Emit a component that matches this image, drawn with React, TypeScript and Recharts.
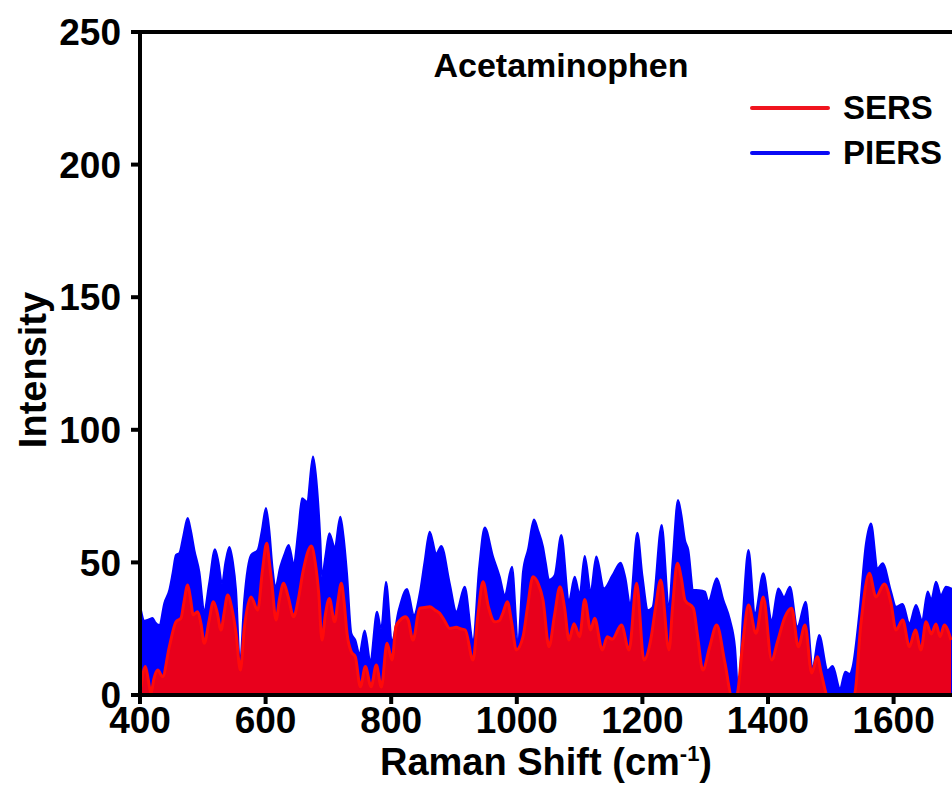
import { AreaChart, Area, XAxis, YAxis, ReferenceLine } from 'recharts'

const FONT = '"Liberation Sans", Arial, Helvetica, sans-serif'

// PIERS (blue) spectrum
const piersShift = [
  401.6, 407, 414, 420, 424, 430.8, 438.8, 446.7, 452, 457.3, 462.6, 469, 475.9, 481, 486.5, 494.5,
  502.4, 510, 519.4, 525, 530.6, 536, 542.3, 548, 552.9, 559.2, 566, 576.8, 587.4, 594, 600.6, 606,
  611, 615.5, 623.4, 630, 636.7, 644.7, 652, 658, 665.9, 675.5, 682, 687.2, 689.8, 695, 701.5, 710,
  719, 724, 729.6, 736.5, 742.9, 749.3, 757.8, 766.8, 777.4, 784, 791.7, 801.3, 812, 825.2, 836.3,
  845.4, 853, 861.3, 871.8, 879.8, 893.2, 903.7, 917, 930.3, 940, 948.9, 962.1, 972.8, 980.7, 992.4,
  1001.9, 1009.9, 1018, 1027.4, 1034, 1041.7, 1046, 1051.3, 1060, 1070.9, 1083.1, 1092.2, 1100,
  1108.1, 1117.6, 1126.6, 1138.9, 1152, 1165.4, 1173, 1180.3, 1191.9, 1200, 1208.9, 1216, 1230.7,
  1242.4, 1248, 1256.7, 1262, 1267.8, 1273.1, 1281.1, 1290, 1299.7, 1305, 1318.3, 1328.9, 1339.5,
  1347.5, 1353, 1360, 1368.9, 1379.3, 1392.5, 1405.9, 1416.4, 1425.5, 1435, 1446.7, 1460, 1471.1,
  1481.5, 1495, 1503, 1514.6, 1523.1, 1530, 1534.7, 1545.4, 1556, 1564, 1574.6, 1582.5, 1595.9,
  1603.8, 1614.5, 1625.1, 1635.7, 1645.2, 1654.3, 1660, 1667.5, 1675.5, 1683.4, 1693,
]
const piersIntensity = [
  32, 28, 28.5, 29, 27.5, 26.4, 34.7, 39.6, 46, 52.8, 53.5, 60, 66.7, 62, 54.7, 46.4,
  32, 42, 55, 50, 42, 50, 55.8, 50, 39.6, 12, 36, 52.8, 54.7, 62, 70.5, 62,
  48, 40.8, 48.4, 53, 56.6, 49.7, 62, 74.2, 72.9, 89.9, 78, 58.4, 44.6, 52, 61, 55.9,
  67.2, 60, 45.9, 23.3, 20.7, 15.7, 24.3, 13.2, 31.4, 25, 42.7, 20.7, 32, 40, 30.2,
  38.3, 50, 61.6, 53.4, 56.2, 42.1, 31.4, 40.8, 20.7, 48, 63.2, 52.2, 44.6, 37.7, 48.4,
  20.7, 46.5, 55, 66.2, 62, 55.9, 50, 43.4, 45, 60.3, 35.8, 44.6, 38,
  52.4, 39.6, 52.2, 40.2, 45, 49.9, 44, 34.6, 61.2, 45, 32, 33, 64.1,
  33.3, 50, 73.5, 68, 58.4, 54.7, 39.6, 39.5, 39, 35.2, 44, 35.8, 28.3,
  18, 0.5, 30, 54.7, 30.8, 45.9, 28.3, 40.2, 37, 40.8, 25.8, 35.2, 10.7,
  22.6, 9.4, 10.9, 2.5, 8.8, 8, 10.7, 30.8, 57.2, 64.7, 47.8, 49.7, 39,
  33.3, 34.3, 27, 33.9, 28.3, 39, 36, 42.7, 37.7, 40.8, 40,
]

// SERS (red) spectrum
const sersShift = [
  401.6, 408.5, 413, 417.5, 422, 428.2, 436, 446.7, 457.3, 465.3, 470, 475.9, 480, 484.8, 491.8, 497,
  502.4, 510, 516.8, 523, 529, 534, 539.6, 546, 552.9, 559.8, 566, 576.8, 587.4, 595, 601.8, 606,
  610, 616.6, 622, 628.8, 636, 644.7, 652, 660, 672.8, 679, 684.6, 689.8, 695, 701.5, 710, 715,
  720.6, 725, 729.6, 736.5, 742.9, 750.9, 758.9, 768, 776.3, 784.3, 793.3, 801.3, 807.6, 814.5,
  822.5, 827, 834.7, 845.4, 853, 861.3, 870, 877.2, 885, 893.2, 903.7, 910, 918, 930.3, 938, 946.2,
  955, 964.8, 972, 978, 984.9, 992, 999.2, 1009.9, 1017, 1025.8, 1034, 1041.7, 1051.3, 1060, 1068.8,
  1076, 1083.1, 1091.1, 1100, 1108.1, 1117.6, 1124, 1136.1, 1144.1, 1152, 1166.6, 1178.8, 1190.8,
  1202.5, 1213.2, 1221, 1229.1, 1242.4, 1248, 1255.6, 1262, 1267.8, 1281.1, 1288, 1296.2, 1307,
  1318.3, 1331.5, 1342.2, 1350.1, 1360, 1368.9, 1381, 1392.5, 1405.9, 1415, 1427.1, 1437.7, 1448.3,
  1459, 1469.6, 1478.5, 1485, 1495, 1537.3, 1548, 1561.3, 1571.9, 1585.2, 1595.9, 1603.8, 1614.5,
  1625.1, 1634.7, 1643.6, 1651.6, 1660, 1667.5, 1674, 1680.7, 1691.5,
]
const sersIntensity = [
  3, 10.7, 6, 0.5, 6, 9.4, 6.9, 18.2, 27.6, 29, 35, 41.5, 37, 30.2, 31.4, 27,
  19.5, 28, 35.2, 31, 24.5, 31, 37.7, 33, 23.4, 9.4, 25, 37, 32, 47, 57.2, 50,
  42, 28.3, 36, 42.1, 37, 29.5, 36, 47, 56.2, 50, 38.3, 20.7, 30, 36.4, 27.6, 35,
  42.1, 35, 23.3, 16.3, 14.4, 3.1, 10.7, 3.1, 11.3, 3, 19.5, 13.2, 25.8, 28.3,
  29.5, 28.3, 20.7, 32.7, 33, 33.3, 32, 30.8, 28, 25.1, 25.5, 25, 24.5, 13.2, 30, 42.7,
  33, 27.6, 28, 31, 35.2, 27, 17, 22, 33, 44.6, 42, 35.8, 18.2, 30, 40.8,
  33, 20.7, 26.9, 22, 36, 24.5, 28.9, 17, 22, 21, 26.4, 17, 42.1,
  13.2, 20.7, 33, 43.4, 17, 33, 49.7, 44, 35.8, 32.7, 22, 9.4, 18,
  26.4, 12, 0, 0, 20, 33.9, 23.3, 37, 13.2, 20, 29.5, 32.7, 18.2,
  26.4, 8.3, 14.4, 8, 0, 0, 27, 45.9, 37, 41.9, 34.6, 24.5, 28.3,
  18.2, 24.5, 17, 27.6, 23, 26.8, 22, 26.4, 20.7,
]

const xTicks = [400, 600, 800, 1000, 1200, 1400, 1600]
const yTicks = [0, 50, 100, 150, 200, 250]

const legendItems = [
  { name: 'SERS', color: '#f0141e' },
  { name: 'PIERS', color: '#0a0af5' },
]

type Row = { shift: number; piers: number | null; sers: number | null }

function buildRows(): Row[] {
  const map = new Map<number, Row>()
  piersShift.forEach((s, i) => {
    map.set(s, { shift: s, piers: piersIntensity[i], sers: null })
  })
  sersShift.forEach((s, i) => {
    const r = map.get(s)
    if (r) r.sers = sersIntensity[i]
    else map.set(s, { shift: s, piers: null, sers: sersIntensity[i] })
  })
  return Array.from(map.values()).sort((a, b) => a.shift - b.shift)
}

const rows = buildRows()

const tickStyle = { fill: '#000', fontSize: 37, fontWeight: 700, fontFamily: FONT }

const textBase = { position: 'absolute' as const, fontFamily: FONT, fontWeight: 700, whiteSpace: 'nowrap' as const }

export default function App() {
  return (
    <div style={{ position: 'absolute', left: 0, top: 0, width: 952, height: 794, overflow: 'hidden', background: '#fff' }}>
      <AreaChart width={952} height={794} data={rows} margin={{ top: 32, right: 0, bottom: 0, left: 0 }}>
        <Area
          type="monotone"
          dataKey="piers"
          name="PIERS"
          stroke="#0000ff"
          strokeWidth={2}
          fill="#0000ff"
          fillOpacity={1}
          connectNulls
          dot={false}
          activeDot={false}
          isAnimationActive={false}
        />
        <Area
          type="monotone"
          dataKey="sers"
          name="SERS"
          stroke="#ff0a0a"
          strokeWidth={3}
          fill="#e8001c"
          fillOpacity={1}
          connectNulls
          dot={false}
          activeDot={false}
          isAnimationActive={false}
        />
        <ReferenceLine y={250} stroke="#000" strokeWidth={4} />
        <XAxis
          dataKey="shift"
          type="number"
          domain={[400, 1693]}
          ticks={xTicks}
          allowDataOverflow
          height={99}
          tickSize={9}
          tickMargin={3}
          tick={tickStyle}
          axisLine={{ stroke: '#000', strokeWidth: 4 }}
          tickLine={{ stroke: '#000', strokeWidth: 4 }}
        />
        <YAxis
          type="number"
          domain={[0, 250]}
          ticks={yTicks}
          width={140}
          tickSize={9}
          tickMargin={10}
          tick={tickStyle}
          axisLine={{ stroke: '#000', strokeWidth: 4 }}
          tickLine={{ stroke: '#000', strokeWidth: 4 }}
        />
      </AreaChart>

      {/* legend */}
      <div style={{ ...textBase, left: 750, top: 85, fontSize: 33 }}>
        {legendItems.map((it) => (
          <div key={it.name} style={{ display: 'flex', alignItems: 'center', height: 45 }}>
            <div style={{ width: 80, height: 4, borderRadius: 2, background: it.color, marginRight: 13 }} />
            <span>{it.name}</span>
          </div>
        ))}
      </div>

      <div style={{ ...textBase, left: 561, top: 48, transform: 'translateX(-50%)', fontSize: 34, lineHeight: '34px' }}>
        Acetaminophen
      </div>

      <div style={{ ...textBase, left: 33, top: 370, transform: 'translate(-50%, -50%) rotate(-90deg)', fontSize: 38, lineHeight: '38px' }}>
        Intensity
      </div>

      <div style={{ ...textBase, left: 546, top: 743, transform: 'translateX(-50%)', fontSize: 38, lineHeight: '38px' }}>
        Raman Shift (cm<sup style={{ fontSize: 22, verticalAlign: 'top', lineHeight: '22px' }}>-1</sup>)
      </div>
    </div>
  )
}
